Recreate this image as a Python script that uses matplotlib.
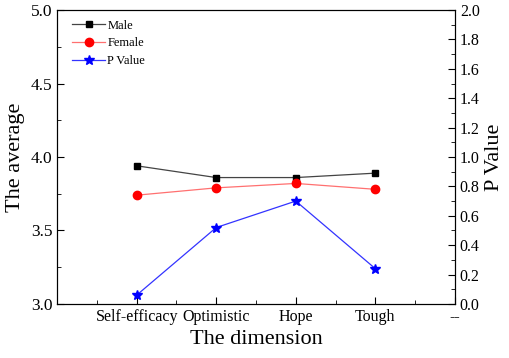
import matplotlib
matplotlib.use("Agg")
import matplotlib.pyplot as plt
from matplotlib.ticker import MultipleLocator, FormatStrFormatter

plt.rcParams['font.family'] = ['Liberation Serif', 'DejaVu Serif']

# data
dimensions = ['Self-efficacy', 'Optimistic', 'Hope', 'Tough']
male = [3.94, 3.86, 3.86, 3.89]
female = [3.74, 3.79, 3.82, 3.78]
p_value = [0.06, 0.52, 0.70, 0.24]
xtick_labels = dimensions + ['--']

x = list(range(1, len(dimensions) + 1))

fig = plt.figure(figsize=(5.10, 3.58), dpi=100)
ax = fig.add_axes([0.112, 0.151, 0.780, 0.821])
ax2 = ax.twinx()

l1, = ax.plot(x, male, color='#444444', lw=0.9, marker='s', ms=5,
              mfc='black', mec='black', label='Male')
l2, = ax.plot(x, female, color='#ff7070', lw=0.9, marker='o', ms=6,
              mfc='red', mec='red', label='Female')
l3, = ax2.plot(x, p_value, color='#3333ff', lw=0.9, marker='*', ms=7,
               mfc='blue', mec='blue', label='P Value')

ax.set_xlim(0, 5)
ax.set_ylim(3.0, 5.0)
ax2.set_ylim(0.0, 2.0)

ax.set_xticks(list(range(1, 6)))
ax.set_xticklabels(xtick_labels)
ax.xaxis.set_minor_locator(MultipleLocator(0.5))
ax.yaxis.set_major_locator(MultipleLocator(0.5))
ax.yaxis.set_minor_locator(MultipleLocator(0.25))
ax2.yaxis.set_major_locator(MultipleLocator(0.2))
ax2.yaxis.set_minor_locator(MultipleLocator(0.1))

ax.tick_params(axis='both', which='both', direction='in', top=False)
ax.tick_params(axis='both', which='major', length=5)
ax.tick_params(axis='y', which='major', labelsize=12.5)
ax.tick_params(axis='x', which='major', labelsize=11.5)
ax.tick_params(axis='both', which='minor', length=3)
ax2.tick_params(axis='y', which='both', direction='in')
ax2.tick_params(axis='y', which='major', length=5, labelsize=11.5)
ax2.tick_params(axis='y', which='minor', length=3)
ax.yaxis.set_major_formatter(FormatStrFormatter('%.1f'))
ax2.yaxis.set_major_formatter(FormatStrFormatter('%.1f'))

ax.set_xlabel('The dimension', fontsize=16)
ax.set_ylabel('The average', fontsize=16)
ax2.set_ylabel('P Value', fontsize=16)

ax.legend(handles=[l1, l2, l3], loc='upper left', frameon=False, fontsize=9,
          handlelength=2.6, handletextpad=0.2, labelspacing=0.45,
          bbox_to_anchor=(0.01, 1.005))

fig.savefig('out.png', dpi=100)
